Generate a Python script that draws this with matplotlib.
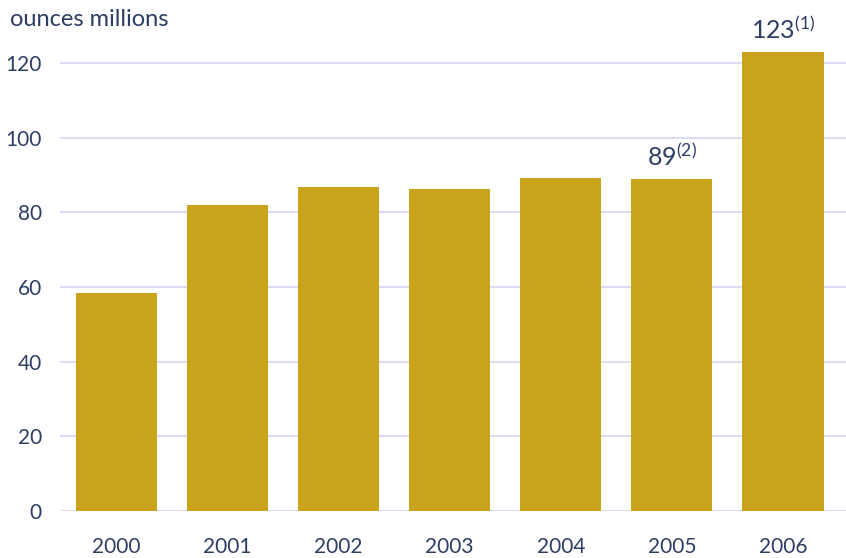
import matplotlib.pyplot as plt

plt.rcParams['font.family'] = ['Lato', 'DejaVu Sans']
plt.rcParams['mathtext.fontset'] = 'custom'
plt.rcParams['mathtext.rm'] = 'Lato'
plt.rcParams['mathtext.default'] = 'regular'

years = ['2000', '2001', '2002', '2003', '2004', '2005', '2006']
ounces = [58.4, 82.0, 86.9, 86.1, 89.1, 89.0, 123.0]
# labelled bars: index -> footnote marker
notes = {5: '(2)', 6: '(1)'}

text_col = '#2d3e63'
bar_col = '#c9a31c'
grid_col = '#d4d4f7'

fig = plt.figure(figsize=(8.46, 5.58), dpi=100)
ax = fig.add_axes([0.0709, 0.0842, 0.9291, 0.87])

x = range(len(years))
bars = ax.bar(x, ounces, width=0.73, color=bar_col, zorder=2)

for i, mark in notes.items():
    ax.annotate(f'{ounces[i]:.0f}$^{{{mark}}}$', (i, ounces[i]), xytext=(0, 6),
                textcoords='offset points', ha='center', va='bottom',
                fontsize=18, color=text_col)

ax.set_xlim(-0.508, 6.567)
ax.set_ylim(0, 130)
ax.set_yticks(range(0, 121, 20))
ax.set_xticks(list(x))
ax.set_xticklabels(years)
ax.yaxis.grid(True, color=grid_col, linewidth=1.2, zorder=0)
ax.set_axisbelow(True)
for s in ax.spines.values():
    s.set_visible(False)
ax.tick_params(axis='both', length=0, labelsize=15, labelcolor=text_col)
ax.tick_params(axis='y', pad=13)
ax.tick_params(axis='x', pad=19)

fig.text(10 / 846, 1 - 19 / 558, 'ounces millions', fontsize=17, color=text_col,
         ha='left', va='center')

fig.savefig('out.png', dpi=100)
